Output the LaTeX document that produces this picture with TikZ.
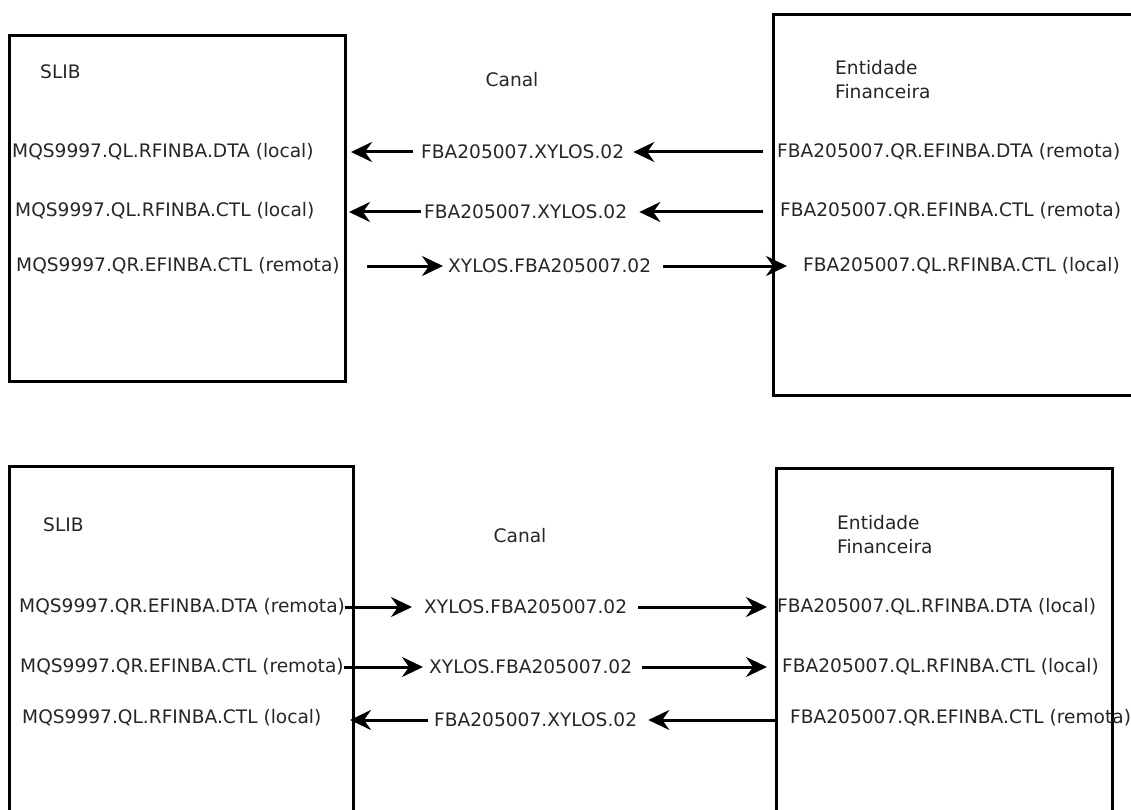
\documentclass[tikz,border=0pt]{standalone}
\usepackage{fontspec}
\setmainfont{DejaVu Sans}
\usetikzlibrary{positioning}
\usetikzlibrary{arrows.meta}
\tikzset{
    boxnode/.style = {rectangle, line width=3pt, draw=black, anchor=north west, inner sep=0pt},
    qnode/.style = {anchor=west, inner sep=0pt, text=black!85, font=\fontsize{18.6pt}{24pt}\selectfont},
    titlenode/.style = {anchor=west, inner sep=0pt, align=left, text=black!85, font=\fontsize{18.6pt}{24pt}\selectfont},
    conn/.style = {-{Stealth[length=21pt,width=20pt,inset=7pt]}, line width=3pt, black}
}

\begin{document}
\begin{tikzpicture}[x=1pt,y=-1pt]
\useasboundingbox (0,0) rectangle (1131,810);
\clip (0,0) rectangle (1131,810);
%
% top
\node[boxnode, minimum width=336pt, minimum height=346pt] at (8,34) (slibA) {};
\node[boxnode, minimum width=372pt, minimum height=381pt] at (772,13) (entA) {};
\node[titlenode] at (40,72) (slibAt) {SLIB};
\node[titlenode, anchor=center] at (512,80) (canalA) {Canal};
\node[titlenode] at (835,80) (entAt) {Entidade\\Financeira};
%
\node[qnode] at (12,152) (la1) {MQS9997.QL.RFINBA.DTA (local)};
\node[qnode] at (15,211) (la2) {MQS9997.QL.RFINBA.CTL (local)};
\node[qnode] at (16,266) (la3) {MQS9997.QR.EFINBA.CTL (remota)};
\node[qnode] at (421,152) (ca1) {FBA205007.XYLOS.02};
\node[qnode] at (424,212) (ca2) {FBA205007.XYLOS.02};
\node[qnode] at (448,266) (ca3) {XYLOS.FBA205007.02};
\node[qnode] at (777,152) (ra1) {FBA205007.QR.EFINBA.DTA (remota)};
\node[qnode] at (780,211) (ra2) {FBA205007.QR.EFINBA.CTL (remota)};
\node[qnode] at (803,266) (ra3) {FBA205007.QL.RFINBA.CTL (local)};
%
\draw[conn, shorten <=9pt, shorten >=9pt] (entA.west |- ca1) to (ca1.east);
\draw[conn, shorten <=8pt, shorten >=4pt] (ca1.west) to (slibA.east |- ca1);
\draw[conn, shorten <=9pt, shorten >=12pt] (entA.west |- ca2) to (ca2.east);
\draw[conn, shorten <=3pt, shorten >=2pt] (ca2.west) to (slibA.east |- ca2);
\draw[conn, shorten <=27pt, shorten >=5pt] (la3.east) to (ca3.west);
\draw[conn, shorten <=12pt, shorten >=16pt] (ca3.east) to (ra3.west);

% bottom
\node[boxnode, minimum width=344pt, minimum height=370pt] at (8,465) (slibB) {};
\node[boxnode, minimum width=336pt, minimum height=370pt] at (775,467) (entB) {};
\node[titlenode] at (43,525) (slibBt) {SLIB};
\node[titlenode, anchor=center] at (520,536) (canalB) {Canal};
\node[titlenode] at (837,535) (entBt) {Entidade\\Financeira};
%
\node[qnode] at (19,607) (lb1) {MQS9997.QR.EFINBA.DTA (remota)};
\node[qnode] at (20,667) (lb2) {MQS9997.QR.EFINBA.CTL (remota)};
\node[qnode] at (22,718) (lb3) {MQS9997.QL.RFINBA.CTL (local)};
\node[qnode] at (424,607) (cb1) {XYLOS.FBA205007.02};
\node[qnode] at (429,667) (cb2) {XYLOS.FBA205007.02};
\node[qnode] at (434,720) (cb3) {FBA205007.XYLOS.02};
\node[qnode] at (777,607) (rb1) {FBA205007.QL.RFINBA.DTA (local)};
\node[qnode] at (782,667) (rb2) {FBA205007.QL.RFINBA.CTL (local)};
\node[qnode] at (790,718) (rb3) {FBA205007.QR.EFINBA.CTL (remota)};
%
\draw[conn, shorten >=12pt] (lb1.east) to (cb1.west);
\draw[conn, shorten <=11pt, shorten >=10pt] (cb1.east) to (rb1.west);
\draw[conn, shorten >=6pt] (lb2.east) to (cb2.west);
\draw[conn, shorten <=10pt, shorten >=15pt] (cb2.east) to (rb2.west);
\draw[conn, shorten >=11pt] (entB.west |- cb3) to (cb3.east);
\draw[conn, shorten <=6pt, shorten >=-5pt] (cb3.west) to (slibB.east |- cb3);

\end{tikzpicture}
\end{document}
